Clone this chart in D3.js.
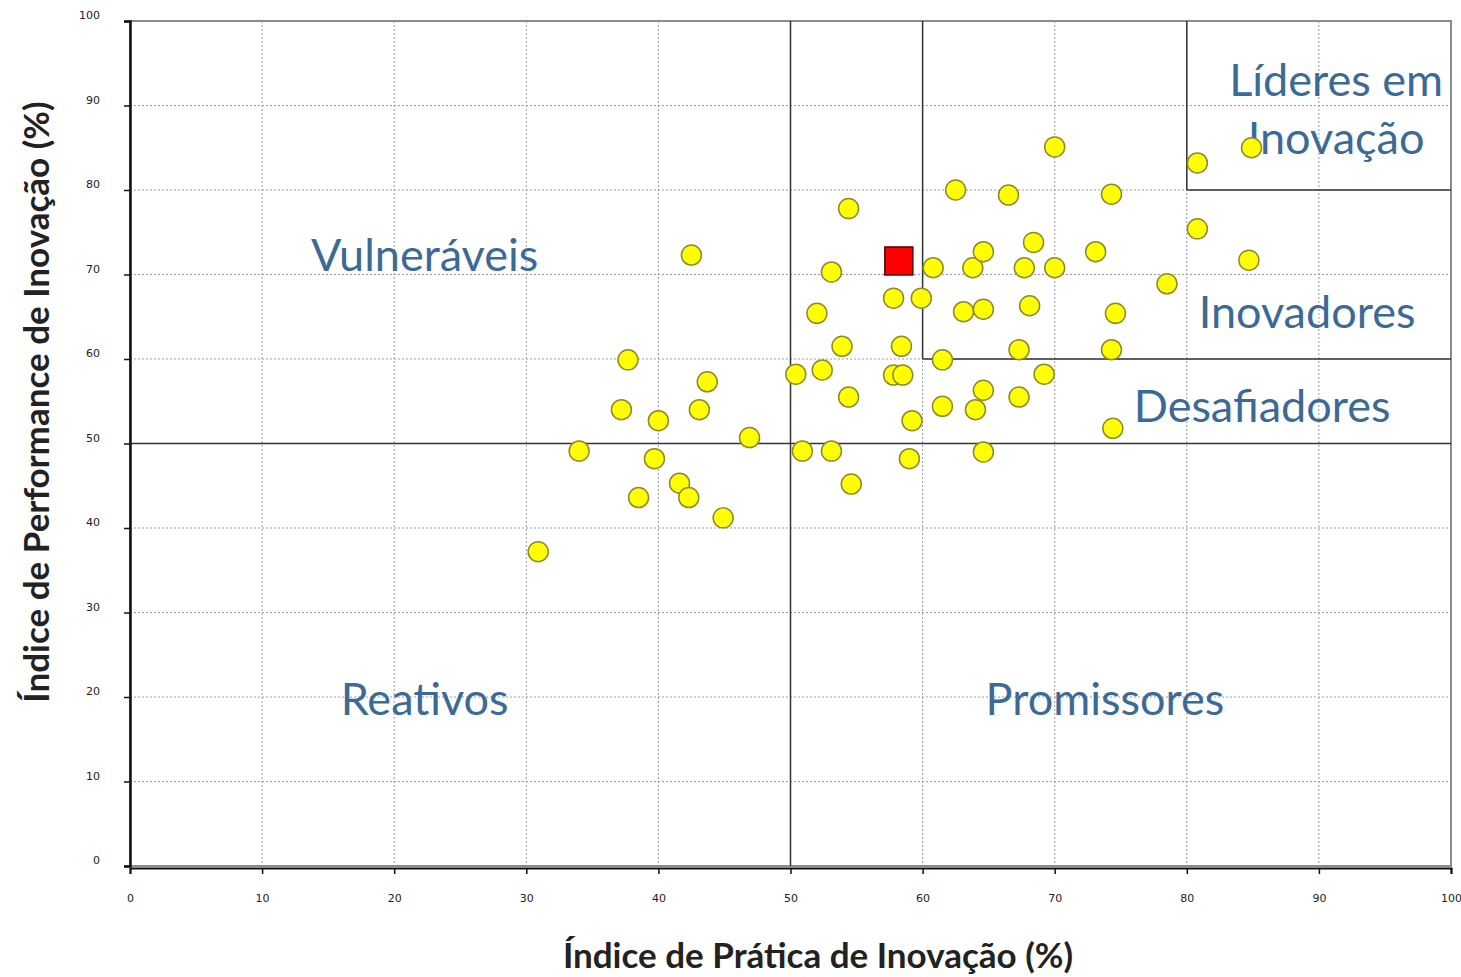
<html>
<head>
    <meta charset="utf-8">
    <title>Índice de Prática x Performance de Inovação</title>
    <style>
        body { margin: 0; background: white; }
        .tick text { font: 11px "DejaVu Sans", sans-serif; fill: #222; }
        .quad { font-family: Lato, "Open Sans", sans-serif; font-size: 45px; fill: #3c6a97; }
        .title { font-family: Lato, "Open Sans", sans-serif; font-weight: bold; font-size: 35px; fill: #222; }
    </style>
    <script src="https://cdn.jsdelivr.net/npm/d3@7"></script>
</head>
<body>
<div id="chart"></div>
<script>
    // indice de pratica (x) e de performance (y) das empresas
    var pratica = [30.9, 34.0, 37.7, 37.2, 38.5, 39.7, 40.0, 41.6, 42.3, 42.5, 43.1, 43.7, 44.9, 46.9,
        50.4, 50.9, 52.0, 52.4, 53.1, 53.1, 53.9, 54.4, 54.4, 54.6, 57.8, 57.8, 58.4, 58.5, 59.0, 59.2,
        59.9, 60.8, 61.5, 61.5, 62.5, 63.1, 63.8, 64.0, 64.6, 64.6, 64.6, 64.6, 66.5, 67.3, 67.3, 67.7,
        68.1, 68.4, 69.2, 70.0, 70.0, 73.1, 74.3, 74.3, 74.4, 74.6, 78.5, 80.8, 80.8, 84.7, 84.9];
    var performance = [37.2, 49.1, 59.9, 54.0, 43.6, 48.2, 52.7, 45.3, 43.6, 72.3, 54.0, 57.3, 41.2, 50.7,
        58.2, 49.1, 65.4, 58.7, 70.3, 49.1, 61.5, 77.8, 55.5, 45.2, 67.2, 58.1, 61.5, 58.1, 48.2, 52.7,
        67.2, 70.8, 59.9, 54.4, 80.0, 65.6, 70.8, 54.0, 72.7, 65.9, 56.3, 49.0, 79.4, 61.1, 55.5, 70.8,
        66.3, 73.8, 58.2, 70.8, 85.1, 72.7, 79.5, 61.1, 51.8, 65.4, 68.9, 83.2, 75.4, 71.7, 85.0];
    // empresa em destaque
    var destaque = [58.2, 71.6];

    var ticks = [0, 10, 20, 30, 40, 50, 60, 70, 80, 90, 100];

    // limites dos quadrantes: [x1, y1, x2, y2]
    var divisoes = [[50, 0, 50, 100], [0, 50, 100, 50], [60, 60, 60, 100], [60, 60, 100, 60],
        [80, 80, 80, 100], [80, 80, 100, 80]];

    var rotulos = [
        { t: ['Vulneráveis'], x: 22.3, y: 70.4 },
        { t: ['Reativos'], x: 22.3, y: 17.9 },
        { t: ['Promissores'], x: 73.8, y: 17.9 },
        { t: ['Desafiadores'], x: 85.7, y: 52.5 },
        { t: ['Inovadores'], x: 89.1, y: 63.7 },
        { t: ['Líderes em', 'Inovação'], x: 91.3, y: 91.1 }
    ];

    var width = 1461, height = 977;
    var margin = { top: 21, right: 10, bottom: 111, left: 130 };
    var w = width - margin.left - margin.right,
        h = height - margin.top - margin.bottom;

    var svg = d3.select('#chart')
            .append('svg')
            .attr('width', width)
            .attr('height', height);

    var g = svg.append('g')
            .attr('transform', 'translate(' + margin.left + ',' + margin.top + ')');

    var x = d3.scaleLinear().domain([0, 100]).range([0, w]);
    var y = d3.scaleLinear().domain([0, 100]).range([h, 0]);

    // grade pontilhada
    g.selectAll('.gx')
            .data(ticks.slice(1, -1))
        .enter().append('line')
            .attr('x1', function(d) { return x(d) })
            .attr('x2', function(d) { return x(d) })
            .attr('y1', 0)
            .attr('y2', h)
            .attr('stroke', '#9a9aa8')
            .attr('stroke-width', 1)
            .attr('stroke-dasharray', '2,2');

    g.selectAll('.gy')
            .data(ticks.slice(1, -1))
        .enter().append('line')
            .attr('x1', 0)
            .attr('x2', w)
            .attr('y1', function(d) { return y(d) })
            .attr('y2', function(d) { return y(d) })
            .attr('stroke', '#9a9aa8')
            .attr('stroke-width', 1)
            .attr('stroke-dasharray', '2,2');

    // moldura
    g.append('rect')
            .attr('x', 0)
            .attr('y', 0)
            .attr('width', w)
            .attr('height', h)
            .attr('fill', 'none')
            .attr('stroke', '#8c8c8c')
            .attr('stroke-width', 2);

    // quadrantes
    g.selectAll('.div')
            .data(divisoes)
        .enter().append('line')
            .attr('x1', function(d) { return x(d[0]) })
            .attr('y1', function(d) { return y(d[1]) })
            .attr('x2', function(d) { return x(d[2]) })
            .attr('y2', function(d) { return y(d[3]) })
            .attr('stroke', '#333')
            .attr('stroke-width', 1.5);

    // eixos
    var xAxis = g.append('g')
            .attr('transform', 'translate(0,' + (h + 2) + ')')
            .call(d3.axisBottom(x).tickValues(ticks).tickSize(6).tickPadding(20));
    xAxis.select('.domain').attr('stroke', '#111').attr('stroke-width', 2);
    xAxis.selectAll('.tick line').attr('stroke', '#111').attr('stroke-width', 1.5);

    var yAxis = g.append('g')
            .call(d3.axisLeft(y).tickValues(ticks).tickSize(6).tickPadding(24));
    yAxis.select('.domain').attr('stroke', '#111').attr('stroke-width', 2.5);
    yAxis.selectAll('.tick line').attr('stroke', '#111').attr('stroke-width', 1.5);
    yAxis.selectAll('.tick text').attr('dy', '-0.2em');

    // rotulos dos quadrantes
    rotulos.forEach(function(r) {
        var t = g.append('text')
                .attr('class', 'quad')
                .attr('text-anchor', 'middle')
                .attr('x', x(r.x))
                .attr('y', y(r.y));
        r.t.forEach(function(s, i) {
            t.append('tspan')
                    .attr('x', x(r.x))
                    .attr('dy', i == 0 ? 0 : 58)
                    .text(s);
        });
    });

    // pontos
    var pts = pratica.map(function(d, i) { return [d, performance[i]] });
    g.selectAll('circle')
            .data(pts)
        .enter().append('circle')
            .attr('cx', function(d) { return x(d[0]) })
            .attr('cy', function(d) { return y(d[1]) })
            .attr('r', 10)
            .attr('fill', '#ffff00')
            .attr('stroke', '#8c8a2a')
            .attr('stroke-width', 1.5);

    g.append('rect')
            .attr('x', x(destaque[0]) - 14)
            .attr('y', y(destaque[1]) - 14)
            .attr('width', 28)
            .attr('height', 28)
            .attr('fill', '#ff0000')
            .attr('stroke', '#550000')
            .attr('stroke-width', 1.5);

    // titulos dos eixos
    svg.append('text')
            .attr('class', 'title')
            .attr('text-anchor', 'middle')
            .attr('x', 818)
            .attr('y', 968)
            .text('Índice de Prática de Inovação (%)');

    svg.append('text')
            .attr('class', 'title')
            .attr('text-anchor', 'middle')
            .attr('transform', 'translate(49,402) rotate(-90)')
            .text('Índice de Performance de Inovação (%)');
</script>
</body>
</html>
